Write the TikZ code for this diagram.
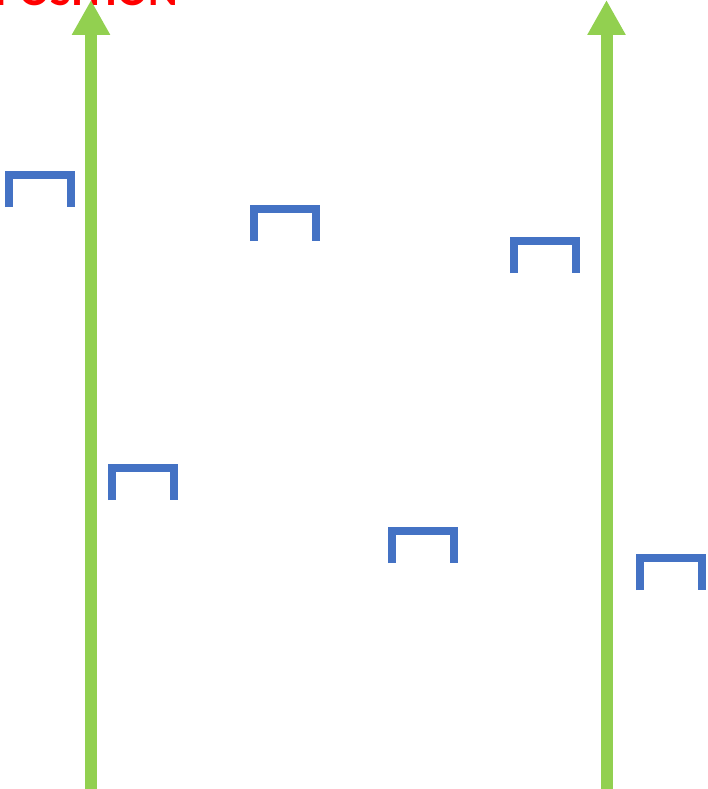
\documentclass[tikz,border=0pt]{standalone}
\usepackage{fontspec}
\newfontfamily\titlefont{Carlito}
\usetikzlibrary{arrows.meta}
\definecolor{arrowgreen}{HTML}{92D050}
\definecolor{bracketblue}{HTML}{4472C4}
\tikzset{
  uparrow/.style={draw=arrowgreen, line width=12pt, -{Triangle[width=36pt,length=35pt]}},
  bracketline/.style={draw=bracketblue, line width=8pt, miter limit=10},
  titletext/.style={text=red, font=\titlefont\bfseries\fontsize{45}{50}\selectfont, inner sep=0pt, anchor=base east}
}
\begin{document}
\begin{tikzpicture}[x=1pt,y=-1pt]
\useasboundingbox (0,0) rectangle (708,789);
\node[titletext] (title) at (178,6) {POSITION};
% green arrows
\coordinate (l0) at (91,789);
\coordinate (l1) at (91,0);
\coordinate (r0) at (606.5,789);
\coordinate (r1) at (606.5,0);
\draw[uparrow] (l0) -- (l1);
\draw[uparrow] (r0) -- (r1);
% brackets: (x,top) with outer width 70, height 36
\foreach \n/\x/\y in {b1/5/171, b2/250/205, b3/510/237, b4/108/464, b5/388/527, b6/636/554}{
  \coordinate (\n-a) at ({\x+4},{\y+36});
  \coordinate (\n-b) at ({\x+4},{\y+4});
  \coordinate (\n-c) at ({\x+66},{\y+4});
  \coordinate (\n-d) at ({\x+66},{\y+36});
  \draw[bracketline] (\n-a) -- (\n-b) -- (\n-c) -- (\n-d);
}
\end{tikzpicture}
\end{document}
